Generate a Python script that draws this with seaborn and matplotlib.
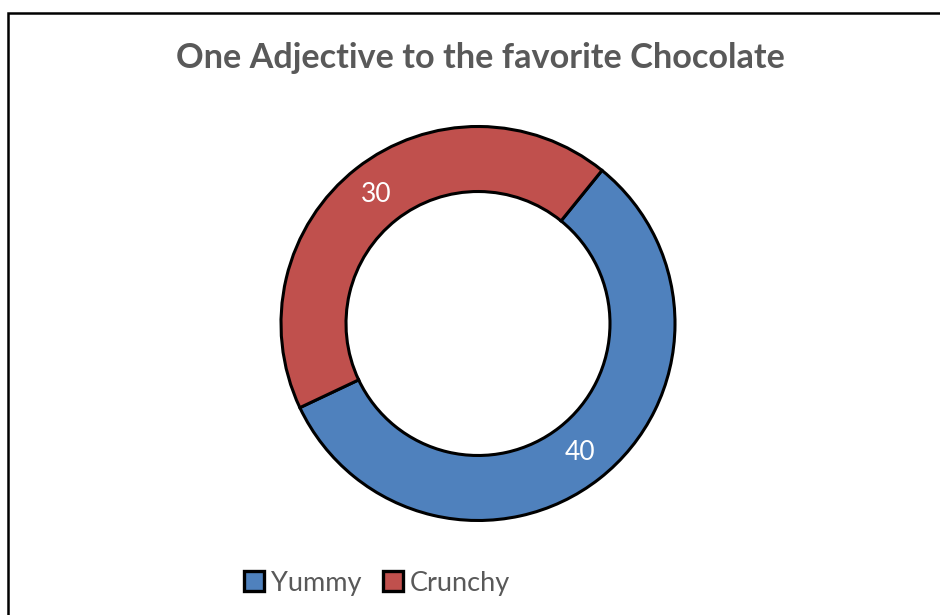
import matplotlib
matplotlib.use("Agg")
import matplotlib.pyplot as plt
import matplotlib.patches as mpatches
import numpy as np
import seaborn as sns

# data
labels = ["Yummy", "Crunchy"]
values = [40, 30]
colors = ["#4F81BD", "#C0504D"]
title = "One Adjective to the favorite Chocolate"

sns.set_theme(style="white")
plt.rcParams["font.family"] = ["Lato", "DejaVu Sans"]

W, H = 940, 615
fig = plt.figure(figsize=(W / 100, H / 100), dpi=100)
fig.patch.set_facecolor("white")

# outer frame (cut off on the right and bottom like the reference)
fig.add_artist(mpatches.Rectangle((8 / W, -0.05), 1.2, (H - 13) / H + 0.05,
                                  transform=fig.transFigure, fill=False,
                                  edgecolor="black", linewidth=1.8))

# donut axes: center (478, 323.5) px, outer radius 197 px
cx, cy, r = 478, 323.5, 197
half = r * 1.25
ax = fig.add_axes([(cx - half) / W, (H - cy - half) / H, 2 * half / W, 2 * half / H])

wedges, texts = ax.pie(values, colors=colors, startangle=51, counterclock=False,
                       wedgeprops=dict(width=0.33, edgecolor="black", linewidth=2.2))
ax.set_aspect("equal")
ax.set_xlim(-1.25, 1.25)
ax.set_ylim(-1.25, 1.25)

# value labels at the middle of each ring segment
for w, v in zip(wedges, values):
    ang = np.deg2rad((w.theta1 + w.theta2) / 2)
    ax.text(0.835 * np.cos(ang), 0.835 * np.sin(ang), str(v), color="white",
            fontsize=19, ha="center", va="center")

fig.text(480 / W, 1 - 58 / H, title, ha="center", va="center",
         fontsize=24.7, fontweight="bold", color="#595959")

handles = [mpatches.Patch(facecolor=c, edgecolor="black", linewidth=2.4, label=l)
           for c, l in zip(colors, labels)]
fig.legend(handles=handles, loc="center", bbox_to_anchor=(377 / W, 1 - 583 / H),
           ncol=2, frameon=False, fontsize=19.5, labelcolor="#595959",
           handlelength=0.75, handleheight=0.75, handletextpad=0.25, columnspacing=0.8)

fig.savefig("out.png", dpi=100, facecolor="white")
